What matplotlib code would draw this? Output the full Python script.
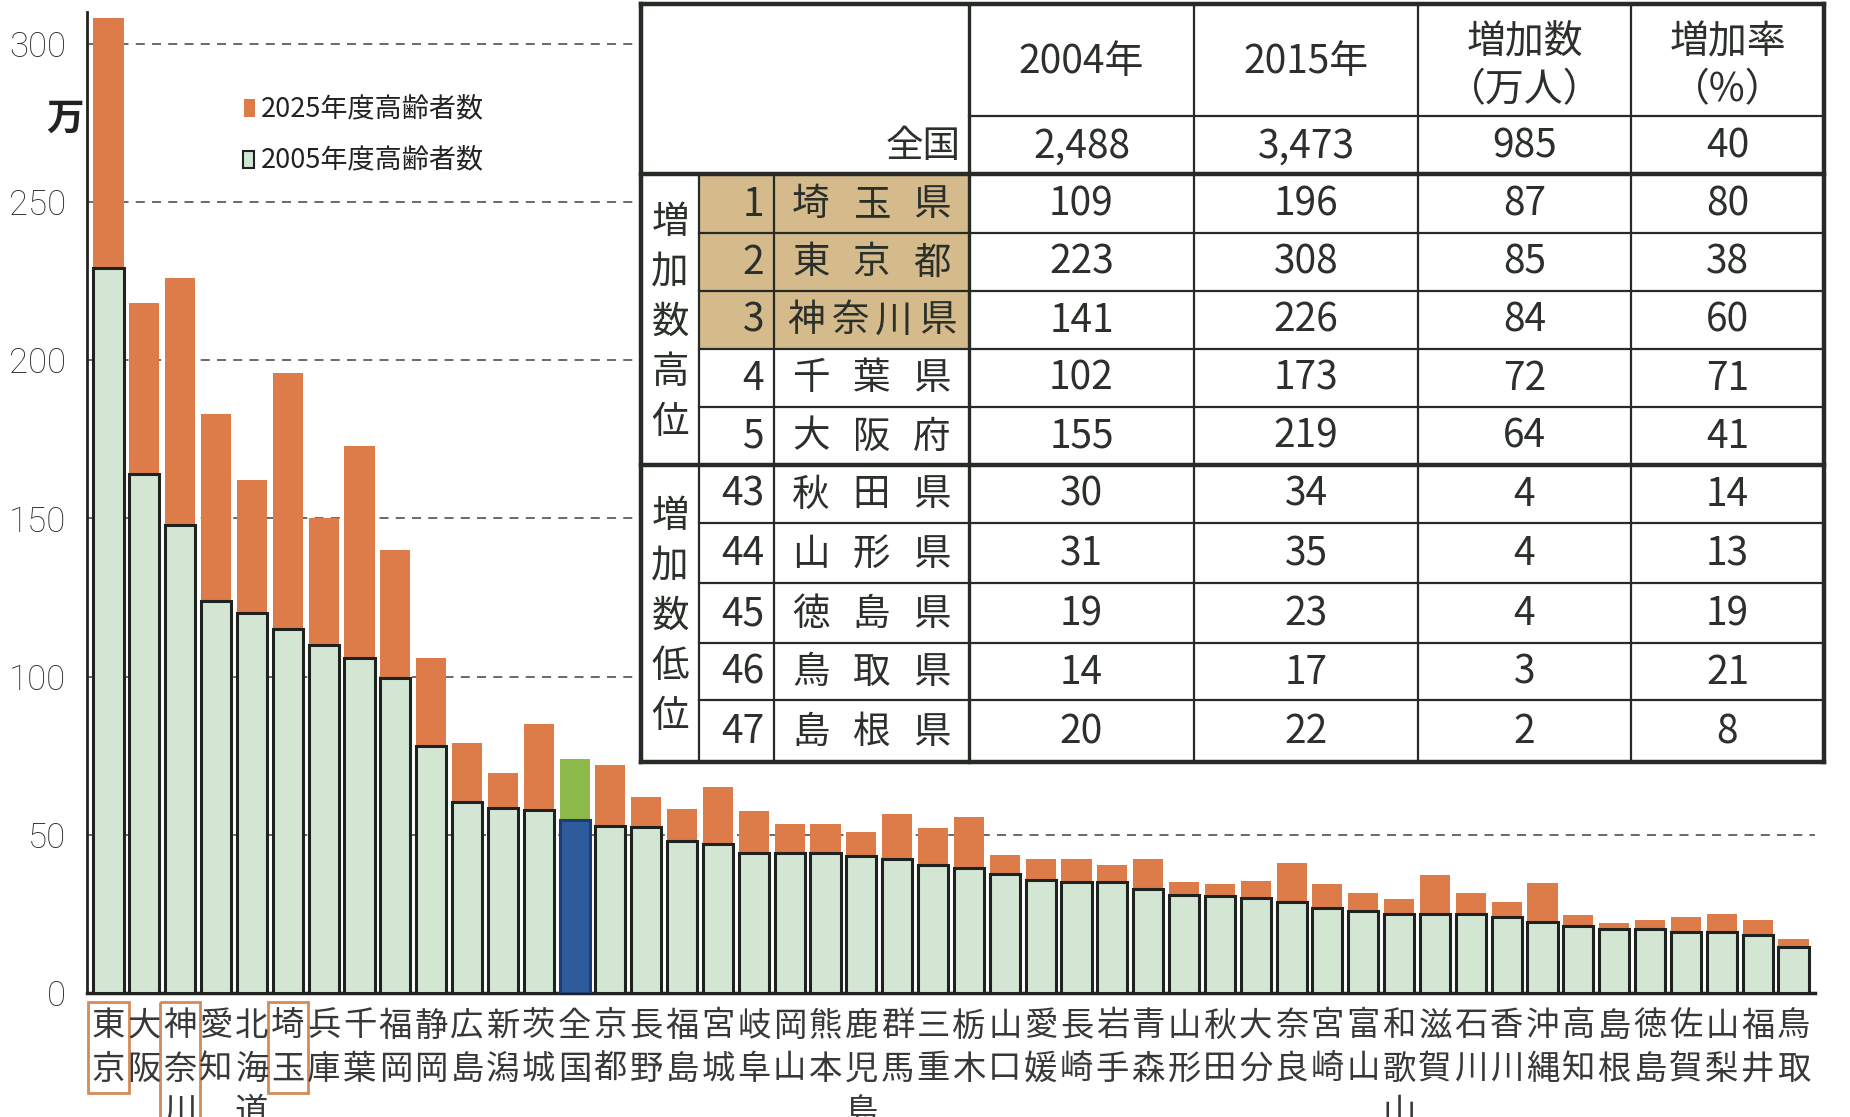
import matplotlib
matplotlib.use('Agg')
import matplotlib.pyplot as plt
from matplotlib.patches import Rectangle
from matplotlib.transforms import blended_transform_factory
import numpy as np

JP = ['Noto Sans CJK JP', 'DejaVu Sans']
plt.rcParams['font.family'] = JP

# ---------------- data ----------------
prefs = ['東京', '大阪', '神奈川', '愛知', '北海道', '埼玉', '兵庫', '千葉', '福岡', '静岡',
         '広島', '新潟', '茨城', '全国', '京都', '長野', '福島', '宮城', '岐阜', '岡山',
         '熊本', '鹿児島', '群馬', '三重', '栃木', '山口', '愛媛', '長崎', '岩手', '青森',
         '山形', '秋田', '大分', '奈良', '宮崎', '富山', '和歌山', '滋賀', '石川', '香川',
         '沖縄', '高知', '島根', '徳島', '佐賀', '山梨', '福井', '鳥取']
v2005 = [229, 164, 148, 124, 120, 115, 110, 106, 99.5, 78,
         60.5, 58.6, 57.8, 54.8, 52.7, 52.6, 48, 47.2, 44.3, 44.3,
         44.3, 43.3, 42.3, 40.6, 39.6, 37.7, 35.7, 35, 35, 32.9,
         31, 30.8, 29.9, 28.9, 26.9, 25.9, 25.0, 25.0, 25.0, 24.1,
         22.3, 21.2, 20.3, 20.3, 19.2, 19.2, 18.3, 14.5]
v2025 = [308, 218, 226, 183, 162, 196, 150, 173, 140, 106,
         79, 69.5, 85, 74, 72, 62, 58, 65, 57.5, 53.5,
         53.5, 51, 56.5, 52, 55.5, 43.5, 42.5, 42.5, 40.5, 42.5,
         35, 34.6, 35.3, 41.2, 34.6, 31.6, 29.7, 37.4, 31.6, 28.8,
         34.7, 24.8, 22, 23.1, 23.9, 25, 23.1, 17.1]
legend_labels = ['2025年度高齢者数', '2005年度高齢者数']
highlight = ['東京', '神奈川', '埼玉']
national = '全国'

tbl_header = ['2004年', '2015年', '増加数\n（万人）', '増加率\n（%）']
tbl_total = ['2,488', '3,473', '985', '40']
tbl_groups = ['増加数高位', '増加数低位']
tbl_rank = [1, 2, 3, 4, 5, 43, 44, 45, 46, 47]
tbl_name = ['埼玉県', '東京都', '神奈川県', '千葉県', '大阪府',
            '秋田県', '山形県', '徳島県', '鳥取県', '島根県']
tbl_2004 = [109, 223, 141, 102, 155, 30, 31, 19, 14, 20]
tbl_2015 = [196, 308, 226, 173, 219, 34, 35, 23, 17, 22]
tbl_inc = [87, 85, 84, 72, 64, 4, 4, 4, 3, 2]
tbl_rate = [80, 38, 60, 71, 41, 14, 13, 19, 21, 8]

# ---------------- style ----------------
ORANGE = '#DD7B49'
PALE = '#D3E6D4'
BLUE = '#2D5B9E'
GREEN = '#8DB84A'
EDGE = '#1f2320'
TXT = '#2b302b'
TAN = '#D5BA8C'
BOX = '#D48A5A'

W, H = 1850, 1117
fig = plt.figure(figsize=(W / 100, H / 100), dpi=100)
fig.patch.set_facecolor('white')

# overlay axes in pixel coordinates (for table, legend, etc.)
ax_t = fig.add_axes([0, 0, 1, 1], zorder=5)
ax_t.set_xlim(0, W)
ax_t.set_ylim(H, 0)
ax_t.axis('off')
ax_t.patch.set_visible(False)

ax = fig.add_axes([87 / W, 1 - 993 / H, (1815 - 87) / W, (993 - 12) / H], zorder=1)
ax.patch.set_visible(False)
x = np.arange(len(prefs))
ax.set_xlim(-0.6, 47.6)
ax.set_ylim(0, 310)

yt = list(range(0, 301, 50))
ax.set_yticks(yt)
for y in yt[1:]:
    ax.axhline(y, color='#5e5e5e', lw=1.3, ls=(0, (5, 4)), zorder=0.5)

top_colors = [GREEN if p == national else ORANGE for p in prefs]
base_colors = [BLUE if p == national else PALE for p in prefs]
edge_colors = ['#1d3c70' if p == national else EDGE for p in prefs]
ax.bar(x, v2025, width=0.84, color=top_colors, linewidth=0, zorder=2)
ax.bar(x, v2005, width=0.84, color=base_colors, edgecolor=edge_colors,
       linewidth=2.2, zorder=3)

for s in ['top', 'right']:
    ax.spines[s].set_visible(False)
ax.spines['left'].set_linewidth(2)
ax.spines['left'].set_color('#222')
ax.spines['bottom'].set_linewidth(2.5)
ax.spines['bottom'].set_color('#222')
ax.set_xticks([])
ax.tick_params(axis='y', length=0, pad=15, labelsize=25, labelcolor='#2e2e2e')
for lbl in ax.get_yticklabels():
    lbl.set_fontfamily(['Roboto', 'DejaVu Sans'])
    lbl.set_fontweight('light')

# vertical category labels
trans = blended_transform_factory(ax.transData, ax_t.transData)
rows_y = [1026, 1069, 1112]
for i, name in enumerate(prefs):
    for j, ch in enumerate(name):
        ax.text(i, rows_y[j], ch, transform=trans, ha='center', va='center',
                fontsize=24, color='#383838', clip_on=False)
    if name in highlight:
        hgt = 91 if len(name) == 2 else 140
        ax.add_patch(Rectangle((i - 0.56, 1002), 1.12, hgt, transform=trans,
                               fill=False, edgecolor=BOX, lw=2, clip_on=False))

# unit label
ax_t.text(65, 118, '万', fontsize=27, fontweight='bold', ha='center', va='center', color='#222')

# legend
ax_t.add_patch(Rectangle((244, 99), 11, 18, facecolor=ORANGE, edgecolor='none'))
ax_t.text(261, 109, legend_labels[0], fontsize=19.5, ha='left', va='center', color='#222')
ax_t.add_patch(Rectangle((243, 151), 11, 17, facecolor=PALE, edgecolor=EDGE, lw=1.5))
ax_t.text(261, 160, legend_labels[1], fontsize=19.5, ha='left', va='center', color='#222')

# ---------------- table ----------------
cx = [641, 699, 774, 969, 1194, 1418, 1631, 1824]
ry = [4, 116, 174, 233, 291, 349, 407, 465, 523, 583, 643, 700, 762]
LC = '#262b26'
thin, thick = 1.6, 3.2

ax_t.add_patch(Rectangle((cx[0], ry[0]), cx[-1] - cx[0], ry[-1] - ry[0],
                         facecolor='white', edgecolor='none', zorder=1))
ax_t.add_patch(Rectangle((cx[1], ry[2]), cx[3] - cx[1], ry[5] - ry[2],
                         facecolor=TAN, edgecolor='none', zorder=1.5))


def hline(y, x0, x1, lw):
    ax_t.plot([x0, x1], [y, y], color=LC, lw=lw, solid_capstyle='projecting', zorder=3)


def vline(xx, y0, y1, lw):
    ax_t.plot([xx, xx], [y0, y1], color=LC, lw=lw, solid_capstyle='projecting', zorder=3)


hline(ry[1], cx[3], cx[-1], thin)
for k in [3, 4, 5, 6]:
    hline(ry[k], cx[1], cx[-1], thin)
for k in [8, 9, 10, 11]:
    hline(ry[k], cx[1], cx[-1], thin)
hline(ry[2], cx[0], cx[-1], thick)
hline(ry[7], cx[0], cx[-1], thick)
vline(cx[3], ry[0], ry[-1], 2.4)
for xx in cx[4:7]:
    vline(xx, ry[0], ry[-1], thin)
vline(cx[1], ry[2], ry[-1], thin)
vline(cx[2], ry[2], ry[-1], thin)
# outer border
hline(ry[0], cx[0], cx[-1], thick)
hline(ry[-1], cx[0], cx[-1], thick)
vline(cx[0], ry[0], ry[-1], thick)
vline(cx[-1], ry[0], ry[-1], thick)

NUM = 28
ccols = [(cx[k] + cx[k + 1]) / 2 for k in range(3, 7)]
for k, htxt in enumerate(tbl_header):
    parts = htxt.split('\n')
    if len(parts) == 1:
        ax_t.text(ccols[k], 62, parts[0], fontsize=NUM, ha='center', va='center', color=TXT, zorder=4)
    else:
        ax_t.text(ccols[k], 42, parts[0], fontsize=28, ha='center', va='center', color=TXT, zorder=4)
        ax_t.text(ccols[k], 90, parts[1], fontsize=28, ha='center', va='center', color=TXT, zorder=4)

ymid_tot = (ry[1] + ry[2]) / 2 + 2
ax_t.text(cx[3] - 8, ymid_tot, national, fontsize=27, ha='right', va='center', color=TXT, zorder=4)
for k, v in enumerate(tbl_total):
    ax_t.text(ccols[k], ymid_tot, v, fontsize=NUM, ha='center', va='center', color=TXT, zorder=4)

for r in range(len(tbl_rank)):
    yc = (ry[2 + r] + ry[3 + r]) / 2 + 1
    ax_t.text(cx[2] - 10, yc, str(tbl_rank[r]), fontsize=NUM, ha='right', va='center', color=TXT, zorder=4)
    nm = tbl_name[r]
    x0, x1 = (811, 932) if len(nm) == 3 else (806, 938)
    for j, ch in enumerate(nm):
        xc = x0 + (x1 - x0) * j / (len(nm) - 1)
        ax_t.text(xc, yc, ch, fontsize=27, ha='center', va='center', color=TXT, zorder=4)
    for k, val in enumerate([tbl_2004[r], tbl_2015[r], tbl_inc[r], tbl_rate[r]]):
        ax_t.text(ccols[k], yc, str(val), fontsize=NUM, ha='center', va='center', color=TXT, zorder=4)

gx = (cx[0] + cx[1]) / 2
for g, label in enumerate(tbl_groups):
    ctr = (ry[2] + ry[7]) / 2 + 3 if g == 0 else (ry[7] + ry[12]) / 2 + 3
    n = len(label)
    for j, ch in enumerate(label):
        ax_t.text(gx, ctr + (j - (n - 1) / 2) * 50, ch, fontsize=27, ha='center',
                  va='center', color=TXT, zorder=4)

fig.savefig('out.png', dpi=100, facecolor='white')
